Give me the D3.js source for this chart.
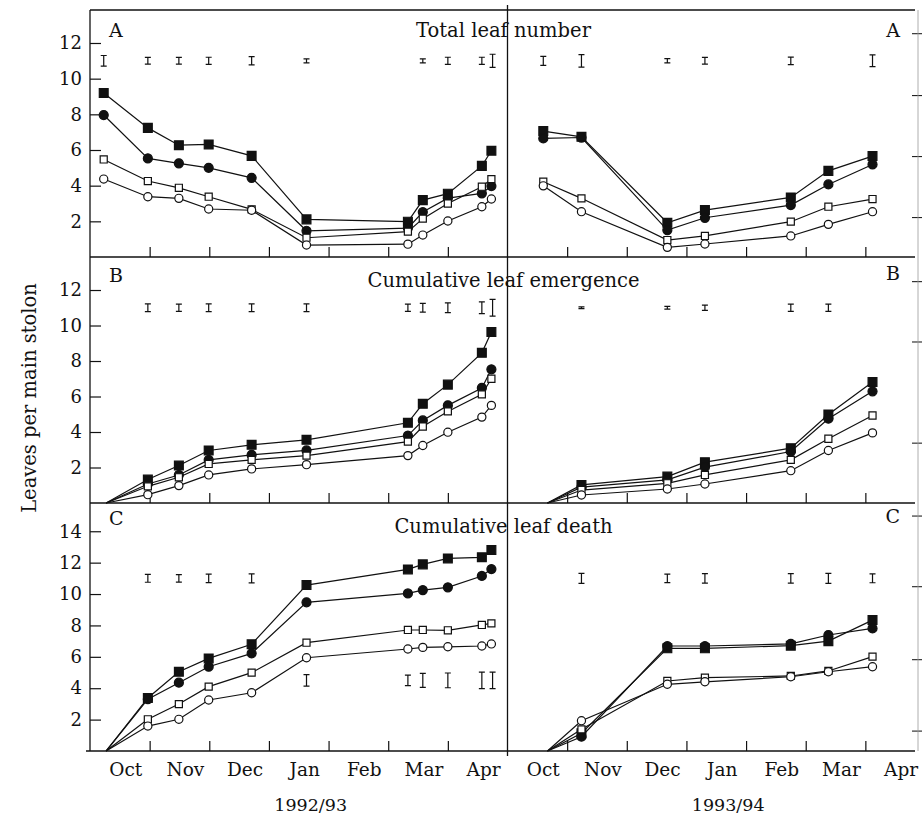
<!DOCTYPE html>
<html>
<head>
<meta charset="utf-8">
<script src="https://cdn.jsdelivr.net/npm/d3@7"></script>
<style>
  body { margin: 0; background: #fff; }
  text { font-family: "DejaVu Serif", serif; fill: #111; }
</style>
</head>
<body>
<svg id="chart" width="922" height="817"></svg>
<script>
// months after 1 October for the x axis
var monthNames = ["Oct", "Nov", "Dec", "Jan", "Feb", "Mar", "Apr"];
var seasonNames = ["1992/93", "1993/94"];
var panelTitles = ["Total leaf number", "Cumulative leaf emergence", "Cumulative leaf death"];
var panelLetters = ["A", "B", "C"];
var yTickValues = [[2, 4, 6, 8, 10, 12], [2, 4, 6, 8, 10, 12], [2, 4, 6, 8, 10, 12, 14]];

// sampling dates (months after 1 Oct)
var dates92A  = [0.23, 0.97, 1.49, 1.99, 2.71, 3.63, 5.33, 5.58, 6.0, 6.57, 6.73];
var dates92BC = [0.27, 0.97, 1.49, 1.99, 2.71, 3.63, 5.33, 5.58, 6.0, 6.57, 6.73];
var dates93A  = [0.6, 1.24, 2.68, 3.31, 4.75, 5.38, 6.12];
var dates93BC = [0.67, 1.24, 2.68, 3.31, 4.75, 5.38, 6.12];

// A: total leaf number  (filled square, filled circle, open square, open circle)
var total92FSq = [9.2, 7.24, 6.27, 6.31, 5.67, 2.11, 1.98, 3.19, 3.55, 5.11, 5.96];
var total92FCi = [7.96, 5.53, 5.25, 5.0, 4.44, 1.47, 1.62, 2.52, 3.3, 3.57, 3.98];
var total92OSq = [5.47, 4.26, 3.88, 3.38, 2.67, 1.08, 1.42, 2.15, 3.0, 3.94, 4.37];
var total92OCi = [4.37, 3.38, 3.29, 2.69, 2.62, 0.67, 0.72, 1.23, 2.02, 2.82, 3.25];
var total93FSq = [7.06, 6.74, 1.92, 2.63, 3.34, 4.83, 5.66];
var total93FCi = [6.65, 6.7, 1.51, 2.2, 2.91, 4.07, 5.19];
var total93OSq = [4.22, 3.29, 0.95, 1.18, 1.98, 2.82, 3.25];
var total93OCi = [3.99, 2.54, 0.54, 0.73, 1.18, 1.83, 2.54];

// B: cumulative leaf emergence
var emerg92FSq = [0, 1.32, 2.11, 2.96, 3.28, 3.56, 4.52, 5.59, 6.67, 8.46, 9.64];
var emerg92FCi = [0, 1.07, 1.58, 2.43, 2.71, 2.96, 3.8, 4.65, 5.5, 6.48, 7.53];
var emerg92OSq = [0, 0.94, 1.45, 2.2, 2.43, 2.67, 3.46, 4.31, 5.16, 6.12, 7.0];
var emerg92OCi = [0, 0.47, 0.98, 1.58, 1.92, 2.16, 2.67, 3.24, 3.99, 4.84, 5.5];
var emerg93FSq = [0, 1.02, 1.49, 2.3, 3.09, 4.99, 6.82];
var emerg93FCi = [0, 0.89, 1.3, 2.02, 2.9, 4.75, 6.29];
var emerg93OSq = [0, 0.73, 1.11, 1.58, 2.43, 3.62, 4.93];
var emerg93OCi = [0, 0.45, 0.79, 1.07, 1.82, 2.96, 3.95];

// C: cumulative leaf death
var death92FSq = [0, 3.38, 5.05, 5.9, 6.8, 10.57, 11.57, 11.89, 12.27, 12.34, 12.8];
var death92FCi = [0, 3.3, 4.35, 5.37, 6.22, 9.47, 10.04, 10.25, 10.43, 11.15, 11.59];
var death92OSq = [0, 2.02, 2.99, 4.1, 4.99, 6.9, 7.71, 7.71, 7.69, 8.03, 8.13];
var death92OCi = [0, 1.59, 2.02, 3.25, 3.71, 5.94, 6.5, 6.6, 6.64, 6.69, 6.82];
var death93FSq = [0, 1.13, 6.54, 6.54, 6.71, 7.0, 8.34];
var death93FCi = [0, 0.91, 6.69, 6.69, 6.82, 7.39, 7.81];
var death93OSq = [0, 1.38, 4.46, 4.67, 4.78, 5.1, 6.01];
var death93OCi = [0, 1.93, 4.25, 4.41, 4.73, 5.05, 5.37];

// error bars: [month, centre, half length]
var err92A = [[0.23, 11, 0.3], [0.97, 11, 0.19], [1.49, 11, 0.19], [1.99, 11, 0.2], [2.71, 11, 0.23],
              [3.63, 11, 0.11], [5.58, 11, 0.11], [6.0, 11, 0.2], [6.57, 11, 0.2], [6.75, 11, 0.37]];
var err93A = [[0.6, 11, 0.25], [1.24, 11, 0.35], [2.68, 11, 0.12], [3.31, 11, 0.19], [4.75, 11, 0.21], [6.12, 11, 0.33]];
var err92B = [[0.97, 11, 0.22], [1.49, 11, 0.2], [1.99, 11, 0.22], [2.71, 11, 0.22], [3.63, 11, 0.22],
              [5.33, 11, 0.2], [5.58, 11, 0.25], [6.0, 11, 0.27], [6.57, 11, 0.33], [6.75, 11, 0.47]];
var err93B = [[1.24, 11, 0.05], [2.68, 11, 0.08], [3.31, 11, 0.15], [4.75, 11, 0.2], [5.38, 11, 0.2]];
var err92C = [[0.97, 11, 0.25], [1.49, 11, 0.24], [1.99, 11, 0.27], [2.71, 11, 0.29],
              [3.63, 4.5, 0.37], [5.33, 4.5, 0.34], [5.58, 4.5, 0.45], [6.0, 4.5, 0.47], [6.57, 4.5, 0.53], [6.75, 4.5, 0.53]];
var err93C = [[1.24, 11, 0.32], [2.68, 11, 0.27], [3.31, 11, 0.3], [4.75, 11, 0.3], [5.38, 11, 0.32], [6.12, 11, 0.28]];

// stray ticks on the right edge of the scan
var rightTicksA = [12.55, 9.08, 5.66, 2.24];
var rightTicksB = [12.5, 9.1, 3.4];
var rightTicksC = [15.0, 10.5, 5.85, 1.3];

var panels = [
  { dates: [dates92A, dates93A], series: [[total92FSq, total92FCi, total92OSq, total92OCi], [total93FSq, total93FCi, total93OSq, total93OCi]], err: [err92A, err93A], right: rightTicksA },
  { dates: [dates92BC, dates93BC], series: [[emerg92FSq, emerg92FCi, emerg92OSq, emerg92OCi], [emerg93FSq, emerg93FCi, emerg93OSq, emerg93OCi]], err: [err92B, err93B], right: rightTicksB },
  { dates: [dates92BC, dates93BC], series: [[death92FSq, death92FCi, death92OSq, death92OCi], [death93FSq, death93FCi, death93OSq, death93OCi]], err: [err92C, err93C], right: rightTicksC }
];

// layout
var xLeft = 90, xMid = 507.5, frameRight = 915;
var boxes = [{ top: 10, bottom: 257, max: 13.85 }, { top: 257, bottom: 503, max: 13.86 }, { top: 503, bottom: 751, max: 15.8 }];
var markers = [
  { type: d3.symbolSquare, size: 78, fill: "#111" },
  { type: d3.symbolCircle, size: 64, fill: "#111" },
  { type: d3.symbolSquare, size: 50, fill: "#fff" },
  { type: d3.symbolCircle, size: 52, fill: "#fff" }
];

var svg = d3.select("#chart");
var xScales = [
  d3.scaleLinear().domain([0, 7]).range([xLeft, xMid]),
  d3.scaleLinear().domain([0, 7]).range([xMid, xMid + (xMid - xLeft)])
];

panels.forEach(function(panel, p) {
  var box = boxes[p];
  var y = d3.scaleLinear().domain([0, box.max]).range([box.bottom, box.top]);
  var g = svg.append("g");

  // left axis: inward ticks
  var ya = g.append("g")
    .attr("transform", "translate(" + xLeft + ",0)")
    .call(d3.axisLeft(y).tickValues(yTickValues[p]).tickSize(-11).tickSizeOuter(0).tickPadding(8));
  ya.select(".domain").remove();
  ya.selectAll(".tick line").attr("stroke", "#111").attr("stroke-width", 1.2);
  ya.selectAll(".tick text").attr("font-size", 18).attr("font-family", "DejaVu Serif").attr("fill", "#111");

  // stray right-edge ticks
  var ra = g.append("g")
    .attr("transform", "translate(912,0)")
    .call(d3.axisRight(y).tickValues(panel.right).tickSize(10).tickFormat(""));
  ra.select(".domain").remove();
  ra.selectAll(".tick line").attr("stroke", "#222").attr("stroke-width", 1.1);

  // month boundary ticks along the bottom of each panel
  xScales.forEach(function(x) {
    var xa = g.append("g")
      .attr("transform", "translate(0," + box.bottom + ")")
      .call(d3.axisBottom(x).tickValues([1, 2, 3, 4, 5, 6]).tickSize(-10).tickFormat(""));
    xa.select(".domain").remove();
    xa.selectAll(".tick line").attr("stroke", "#111").attr("stroke-width", 1.2);
  });

  // title and letters
  g.append("text").attr("x", xMid - 4).attr("y", box.top + (p === 0 ? 27 : 30))
    .attr("text-anchor", "middle").attr("font-size", 19.5).text(panelTitles[p]);
  g.append("text").attr("x", 109).attr("y", box.top + (p === 0 ? 27 : (p === 1 ? 25 : 22)))
    .attr("font-size", 19).text(panelLetters[p]);
  g.append("text").attr("x", 900).attr("y", box.top + (p === 0 ? 27 : (p === 1 ? 23 : 20)))
    .attr("text-anchor", "end").attr("font-size", 19).text(panelLetters[p]);

  xScales.forEach(function(x, s) {
    var dates = panel.dates[s];

    // error bars
    var eb = g.append("g").attr("stroke", "#111").attr("stroke-width", 1.2).attr("fill", "none");
    panel.err[s].forEach(function(e) {
      var cx = x(e[0]), y0 = y(e[1] - e[2]), y1 = y(e[1] + e[2]);
      eb.append("path").attr("d",
        "M" + (cx - 3) + "," + y1 + "H" + (cx + 3) +
        "M" + cx + "," + y1 + "V" + y0 +
        "M" + (cx - 3) + "," + y0 + "H" + (cx + 3));
    });

    var line = d3.line()
      .x(function(d, i) { return x(dates[i]); })
      .y(function(d) { return y(d); });

    panel.series[s].forEach(function(vals) {
      g.append("path").datum(vals)
        .attr("d", line)
        .attr("fill", "none").attr("stroke", "#111").attr("stroke-width", 1.2);
    });

    // markers on top (skip the zero start point of cumulative panels)
    panel.series[s].forEach(function(vals, k) {
      var m = markers[k];
      g.append("g").selectAll("path")
        .data(vals.map(function(v, i) { return [dates[i], v]; }).filter(function(d) { return d[1] > 0; }))
        .enter().append("path")
          .attr("transform", function(d) { return "translate(" + x(d[0]) + "," + y(d[1]) + ")"; })
          .attr("d", d3.symbol().type(m.type).size(m.size))
          .attr("fill", m.fill).attr("stroke", "#111").attr("stroke-width", 1.2);
    });
  });

  // panel horizontal frame lines
  g.append("line").attr("x1", p === 2 ? 86 : xLeft).attr("x2", frameRight)
    .attr("y1", box.bottom).attr("y2", box.bottom).attr("stroke", "#111").attr("stroke-width", 1.3);
});

// outer frame: top, left axis, centre divider, faint right edge
svg.append("line").attr("x1", xLeft).attr("x2", frameRight).attr("y1", boxes[0].top).attr("y2", boxes[0].top)
  .attr("stroke", "#111").attr("stroke-width", 1.3);
svg.append("line").attr("x1", xLeft).attr("x2", xLeft).attr("y1", boxes[0].top).attr("y2", boxes[2].bottom)
  .attr("stroke", "#111").attr("stroke-width", 1.3);
svg.append("line").attr("x1", xMid).attr("x2", xMid).attr("y1", boxes[0].top - 5).attr("y2", boxes[2].bottom + 5)
  .attr("stroke", "#111").attr("stroke-width", 1.3);
svg.append("line").attr("x1", 918).attr("x2", 918).attr("y1", boxes[0].top).attr("y2", boxes[2].bottom)
  .attr("stroke", "#999").attr("stroke-width", 0.8);

// month labels and season labels
xScales.forEach(function(x, s) {
  svg.append("g").selectAll("text")
    .data(monthNames)
    .enter().append("text")
      .attr("x", function(d, i) { return x(i + 0.6); })
      .attr("y", 776)
      .attr("text-anchor", "middle").attr("font-size", 18.5)
      .text(function(d) { return d; });
  svg.append("text").attr("x", x(3.7)).attr("y", 811)
    .attr("text-anchor", "middle").attr("font-size", 17.5).text(seasonNames[s]);
});

// y axis title
svg.append("text")
  .attr("transform", "translate(36," + 398 + ") rotate(-90)")
  .attr("text-anchor", "middle").attr("font-size", 19.5)
  .text("Leaves per main stolon");
</script>
</body>
</html>
